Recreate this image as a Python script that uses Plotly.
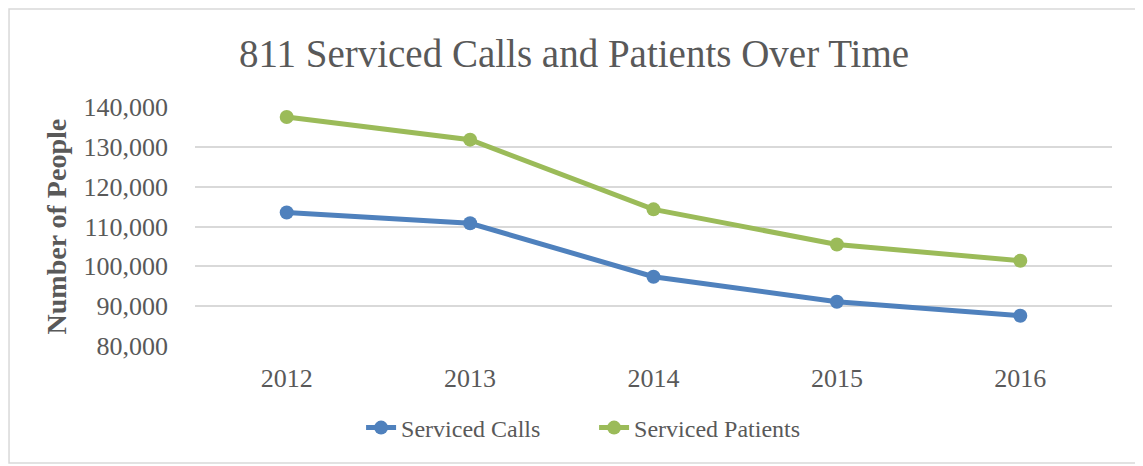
import plotly.graph_objects as go

years = ['2012', '2013', '2014', '2015', '2016']
serviced_calls = [113500, 110800, 97400, 91100, 87600]
serviced_patients = [137500, 131800, 114300, 105500, 101400]
y_ticks = [80000, 90000, 100000, 110000, 120000, 130000, 140000]

FONT = 'Liberation Serif'
TEXT_GREY = '#595959'


def create_line_chart(save=True, name='out'):
    """
                        ---What it does---
    Draws the 811 calls / patients line chart and writes it to html.
    The figure is 8px smaller than the window to allow for the page margin.
    """
    fig = go.Figure()

    fig.add_trace(go.Scatter(x=years, y=serviced_calls, name='Serviced Calls',
                             mode='lines+markers',
                             line=dict(color='#4F81BD', width=5),
                             marker=dict(color='#4F81BD', size=14)))
    fig.add_trace(go.Scatter(x=years, y=serviced_patients, name='Serviced Patients',
                             mode='lines+markers',
                             line=dict(color='#9BBB59', width=5),
                             marker=dict(color='#9BBB59', size=14)))

    fig.update_layout(
        width=1135, height=458,
        margin=dict(l=187, r=31, t=99, b=120),
        paper_bgcolor='white', plot_bgcolor='white',
        font=dict(family=FONT, color=TEXT_GREY, size=24),
        title=dict(text='811 Serviced Calls and Patients Over Time',
                   font=dict(family=FONT, size=39, color=TEXT_GREY),
                   xref='container', x=0.4987, xanchor='center',
                   yref='container', y=0.9017, yanchor='middle'),
        showlegend=True,
        legend=dict(orientation='h', xanchor='center', x=0.4352,
                    yanchor='middle', y=-0.343,
                    entrywidth=188, entrywidthmode='pixels',
                    font=dict(family=FONT, size=24, color=TEXT_GREY)),
    )

    fig.update_xaxes(type='category', range=[-0.5, 4.5],
                     showgrid=False, showline=False, zeroline=False,
                     ticks='', ticklabelstandoff=14,
                     tickfont=dict(family=FONT, size=26, color=TEXT_GREY))
    fig.update_yaxes(range=[80000, 140000], tickvals=y_ticks,
                     tickformat=',d', showgrid=True, gridcolor='#D9D9D9',
                     gridwidth=1.5, zeroline=False, showline=False,
                     ticks='', ticklabelstandoff=26,
                     tickfont=dict(family=FONT, size=26, color=TEXT_GREY))

    # y axis title placed by hand, like the Excel original
    fig.add_annotation(text='<b>Number of People</b>', textangle=-90,
                       xref='paper', yref='paper', x=-0.1505, y=0.5,
                       xanchor='center', yanchor='middle', showarrow=False,
                       font=dict(family=FONT, size=28, color=TEXT_GREY))

    # outer chart border
    fig.add_shape(type='rect', xref='paper', yref='paper',
                  x0=-0.2028, x1=1.0305, y0=-0.4895, y1=1.410,
                  line=dict(color='#D9D9D9', width=1.5), layer='below')

    if save == True:
        fig.write_html(f'{name}.html')


create_line_chart()
